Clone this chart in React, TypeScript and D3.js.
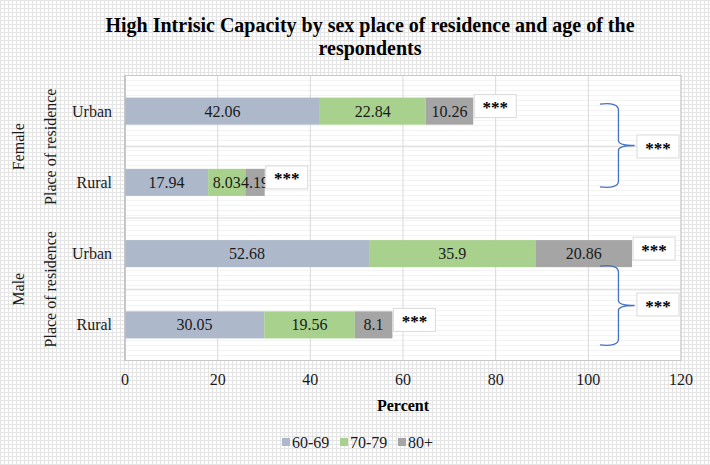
import React, { useRef, useEffect } from 'react';
import * as d3 from 'd3';

// data
const sexes = ['Female', 'Male'];
const residences = ['Urban', 'Rural'];
const rows = ['Female|Urban', 'Female|Rural', 'Male|Urban', 'Male|Rural'];
const ageGroups = ['60-69', '70-79', '80+'];
const values6069 = [42.06, 17.94, 52.68, 30.05];
const values7079 = [22.84, 8.03, 35.9, 19.56];
const values80 = [10.26, 4.19, 20.86, 8.1];
const rowSig = ['***', '***', '***', '***'];
const groupSig = ['***', '***'];
const xTicks = [0, 20, 40, 60, 80, 100, 120];
const colors = ['#adb9ca', '#a9d18e', '#a5a5a5'];

const W = 710;
const H = 465;
const FONT = '"Liberation Serif", "Times New Roman", serif';

const App = () => {
  const ref = useRef<SVGSVGElement>(null);

  useEffect(() => {
    const svg = d3.select(ref.current);
    svg.selectAll('*').remove();

    const left = 125, right = 681, top = 75.5, bottom = 360.5;

    const x = d3.scaleLinear().domain([0, 120]).range([left, right]);
    const y = d3.scaleBand().domain(rows).range([top, bottom]).paddingInner(0.62).paddingOuter(0.31);
    const step = y.step();

    // background patterns
    const defs = svg.append('defs');
    const grid = defs.append('pattern').attr('id', 'bggrid').attr('width', 4).attr('height', 4)
      .attr('patternUnits', 'userSpaceOnUse');
    grid.append('rect').attr('width', 4).attr('height', 4).attr('fill', '#ffffff');
    grid.append('path').attr('d', 'M0,0.5H4M0.5,0V4').attr('stroke', '#e4e4e4').attr('stroke-width', 1);

    const hl = defs.append('pattern').attr('id', 'plotlines').attr('width', 4).attr('height', 5)
      .attr('patternUnits', 'userSpaceOnUse');
    hl.append('rect').attr('width', 4).attr('height', 5).attr('fill', '#ffffff');
    hl.append('path').attr('d', 'M0,0.5H4').attr('stroke', '#f3f3f3').attr('stroke-width', 1);

    svg.append('rect').attr('width', W).attr('height', H).attr('fill', 'url(#bggrid)');
    svg.append('rect').attr('x', left).attr('y', top).attr('width', right - left).attr('height', bottom - top)
      .attr('fill', 'url(#plotlines)');

    // title
    const title = svg.append('text').attr('x', 370).attr('text-anchor', 'middle')
      .style('font-family', FONT).style('font-weight', 'bold').style('font-size', '20px').attr('fill', '#000');
    title.append('tspan').attr('x', 370).attr('y', 32).text('High Intrisic Capacity by sex place of residence and age of the');
    title.append('tspan').attr('x', 370).attr('y', 55).text('respondents');

    // gridlines
    svg.append('g').selectAll('line').data(xTicks.slice(1)).join('line')
      .attr('x1', d => x(d)).attr('x2', d => x(d)).attr('y1', top).attr('y2', bottom)
      .attr('stroke', '#d9d9d9').attr('stroke-width', 1);
    const bounds = d3.range(1, rows.length).map(i => top + i * step);
    svg.append('g').selectAll('line').data(bounds).join('line')
      .attr('x1', left).attr('x2', right).attr('y1', d => d).attr('y2', d => d)
      .attr('stroke', '#d9d9d9').attr('stroke-width', 1);
    svg.append('rect').attr('x', left).attr('y', top).attr('width', right - left).attr('height', bottom - top)
      .attr('fill', 'none').attr('stroke', '#c8c8c8');

    // stacked bars
    const table = rows.map((r, i) => ({ row: r, '60-69': values6069[i], '70-79': values7079[i], '80+': values80[i] }));
    const stacked = d3.stack<any>().keys(ageGroups)(table);
    const bars = svg.append('g');
    stacked.forEach((layer, k) => {
      layer.forEach((seg, i) => {
        const v = seg[1] - seg[0];
        const yy = y(rows[i])!;
        bars.append('rect')
          .attr('x', x(seg[0])).attr('y', yy)
          .attr('width', x(seg[1]) - x(seg[0])).attr('height', y.bandwidth())
          .attr('fill', colors[k]);
        bars.append('text')
          .attr('x', (x(seg[0]) + x(seg[1])) / 2).attr('y', yy + y.bandwidth() / 2)
          .attr('dy', '0.35em').attr('text-anchor', 'middle')
          .style('font-family', FONT).style('font-size', '16px').attr('fill', '#1a1a1a')
          .text(String(+v.toFixed(2)));
      });
    });

    // significance boxes next to each bar
    const sigBox = (g: any, cx0: number, cy: number, label: string) => {
      g.append('rect').attr('x', cx0).attr('y', cy - 11.5).attr('width', 42).attr('height', 23)
        .attr('fill', '#ffffff').attr('stroke', '#d9d9d9');
      g.append('text').attr('x', cx0 + 21).attr('y', cy + 7).attr('text-anchor', 'middle')
        .style('font-family', FONT).style('font-size', '17px').style('font-weight', 'bold').attr('fill', '#000')
        .text(label);
    };
    const notes = svg.append('g');
    rows.forEach((r, i) => {
      const total = values6069[i] + values7079[i] + values80[i];
      const cy = y(r)! + y.bandwidth() / 2 - 5;
      sigBox(notes, x(total) + 1, cy, rowSig[i]);
    });

    // curly braces between residences of each sex
    const braceOffsets = [[-7, 4.5], [12.5, 20]];
    sexes.forEach((s, gi) => {
      const yTop = y(`${s}|Urban`)! + y.bandwidth() / 2 + braceOffsets[gi][0];
      const yBot = y(`${s}|Rural`)! + y.bandwidth() / 2 + braceOffsets[gi][1];
      const ym = (yTop + yBot) / 2;
      const x0 = x(102.5), x1 = x(106.5), x2 = x(110);
      const d = `M${x0},${yTop} Q${x1},${yTop - 2} ${x1},${yTop + 6} L${x1},${ym - 5} Q${x1},${ym} ${x2},${ym}`
        + ` Q${x1},${ym} ${x1},${ym + 5} L${x1},${yBot - 6} Q${x1},${yBot + 2} ${x0},${yBot}`;
      notes.append('path').attr('d', d).attr('fill', 'none').attr('stroke', '#4472c4').attr('stroke-width', 1.3);
      sigBox(notes, x(110.5), ym + (gi === 0 ? 1 : -1), groupSig[gi]);
    });

    // x axis
    svg.append('g').selectAll('text').data(xTicks).join('text')
      .attr('x', d => x(d)).attr('y', 385).attr('text-anchor', 'middle')
      .style('font-family', FONT).style('font-size', '16px').attr('fill', '#1a1a1a')
      .text(d => d);
    svg.append('text').attr('x', (left + right) / 2).attr('y', 411).attr('text-anchor', 'middle')
      .style('font-family', FONT).style('font-size', '16px').style('font-weight', 'bold').attr('fill', '#000')
      .text('Percent');

    // y axis: residence, "Place of residence", sex
    svg.append('line').attr('x1', left).attr('x2', left).attr('y1', top).attr('y2', bottom)
      .attr('stroke', '#bfbfbf').attr('stroke-width', 1.5);
    rows.forEach(r => {
      const res = r.split('|')[1];
      svg.append('text').attr('x', 112).attr('y', y(r)! + y.bandwidth() / 2).attr('dy', '0.35em')
        .attr('text-anchor', 'end').style('font-family', FONT).style('font-size', '16px').attr('fill', '#1a1a1a')
        .text(residences[residences.indexOf(res)]);
    });
    sexes.forEach((s, gi) => {
      const cy = top + (gi * 2 + 1) * step;
      svg.append('text').attr('transform', `translate(56,${cy}) rotate(-90)`).attr('text-anchor', 'middle')
        .style('font-family', FONT).style('font-size', '16px').attr('fill', '#1a1a1a')
        .text('Place of residence');
      svg.append('text').attr('transform', `translate(24,${cy}) rotate(-90)`).attr('text-anchor', 'middle')
        .style('font-family', FONT).style('font-size', '16px').attr('fill', '#1a1a1a')
        .text(s);
    });

    // legend
    const legendX = [282, 340, 398];
    const lg = svg.append('g');
    ageGroups.forEach((a, i) => {
      lg.append('rect').attr('x', legendX[i]).attr('y', 438).attr('width', 8).attr('height', 8).attr('fill', colors[i]);
      lg.append('text').attr('x', legendX[i] + 10).attr('y', 447.5)
        .style('font-family', FONT).style('font-size', '16px').attr('fill', '#1a1a1a').text(a);
    });
  }, []);

  return <svg ref={ref} width={W} height={H} style={{ display: 'block', position: 'absolute', left: 0, top: 0 }}></svg>;
};

export default App;
